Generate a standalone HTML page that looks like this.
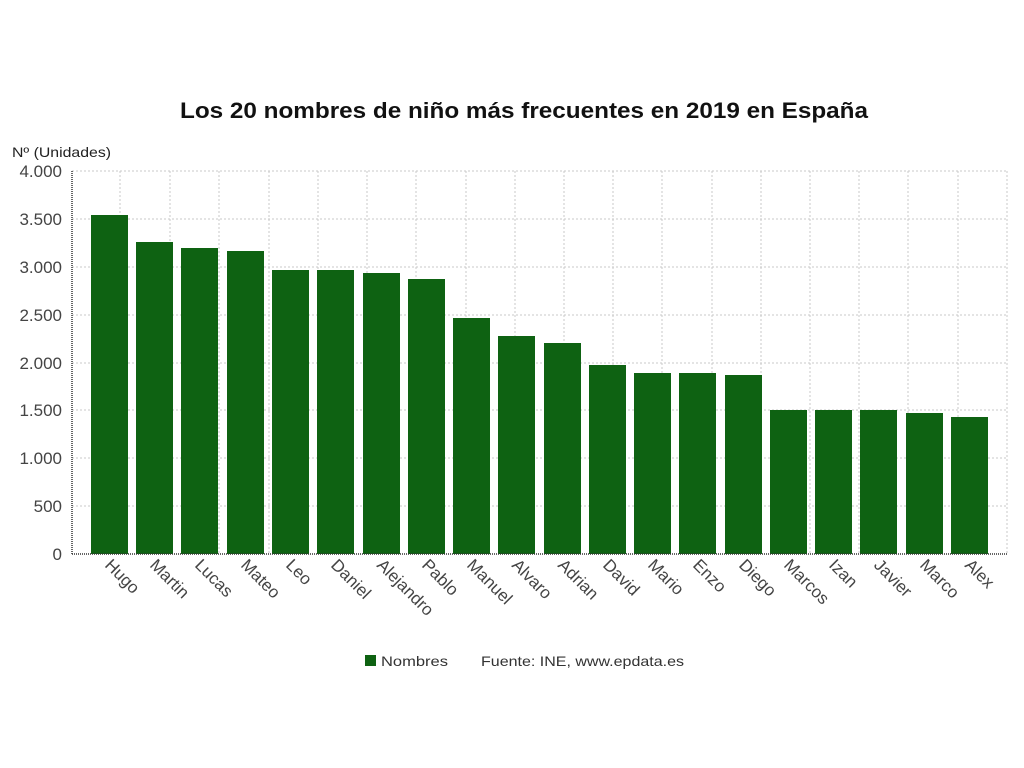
<!DOCTYPE html>
<html><head><meta charset="utf-8"><style>body{margin:0;background:#fff}svg{display:block}text{font-family:"Liberation Sans",sans-serif}</style></head>
<body>
<svg width="1024" height="768" xmlns="http://www.w3.org/2000/svg">
<text x="180" y="118" font-size="22" font-weight="bold" fill="#111" textLength="688" lengthAdjust="spacingAndGlyphs">Los 20 nombres de niño más frecuentes en 2019 en España</text>
<text x="12" y="157" font-size="14" fill="#222" textLength="99" lengthAdjust="spacingAndGlyphs">Nº (Unidades)</text>
<g stroke="#c8c8c8" stroke-dasharray="2,2" stroke-width="1">
<line x1="72" x2="1007" y1="171" y2="171"/><line x1="72" x2="1007" y1="219" y2="219"/><line x1="72" x2="1007" y1="267" y2="267"/><line x1="72" x2="1007" y1="315" y2="315"/><line x1="72" x2="1007" y1="363" y2="363"/><line x1="72" x2="1007" y1="410" y2="410"/><line x1="72" x2="1007" y1="458" y2="458"/><line x1="72" x2="1007" y1="506" y2="506"/>
<line x1="120" x2="120" y1="171" y2="554"/><line x1="170" x2="170" y1="171" y2="554"/><line x1="219" x2="219" y1="171" y2="554"/><line x1="269" x2="269" y1="171" y2="554"/><line x1="318" x2="318" y1="171" y2="554"/><line x1="367" x2="367" y1="171" y2="554"/><line x1="416" x2="416" y1="171" y2="554"/><line x1="466" x2="466" y1="171" y2="554"/><line x1="515" x2="515" y1="171" y2="554"/><line x1="564" x2="564" y1="171" y2="554"/><line x1="613" x2="613" y1="171" y2="554"/><line x1="662" x2="662" y1="171" y2="554"/><line x1="712" x2="712" y1="171" y2="554"/><line x1="761" x2="761" y1="171" y2="554"/><line x1="810" x2="810" y1="171" y2="554"/><line x1="859" x2="859" y1="171" y2="554"/><line x1="908" x2="908" y1="171" y2="554"/><line x1="958" x2="958" y1="171" y2="554"/><line x1="1007" x2="1007" y1="171" y2="554"/>
</g>
<g fill="#0e6212">
<rect x="91" y="215" width="37" height="339"/><rect x="136" y="242" width="37" height="312"/><rect x="181" y="248" width="37" height="306"/><rect x="227" y="251" width="37" height="303"/><rect x="272" y="270" width="37" height="284"/><rect x="317" y="270" width="37" height="284"/><rect x="363" y="273" width="37" height="281"/><rect x="408" y="279" width="37" height="275"/><rect x="453" y="318" width="37" height="236"/><rect x="498" y="336" width="37" height="218"/><rect x="544" y="343" width="37" height="211"/><rect x="589" y="365" width="37" height="189"/><rect x="634" y="373" width="37" height="181"/><rect x="679" y="373" width="37" height="181"/><rect x="725" y="375" width="37" height="179"/><rect x="770" y="410" width="37" height="144"/><rect x="815" y="410" width="37" height="144"/><rect x="860" y="410" width="37" height="144"/><rect x="906" y="413" width="37" height="141"/><rect x="951" y="417" width="37" height="137"/>
</g>
<line x1="72" x2="72" y1="171" y2="554" stroke="#333" stroke-width="1.5" stroke-dasharray="1,1"/>
<line x1="72" x2="1007" y1="554" y2="554" stroke="#333" stroke-width="1.5" stroke-dasharray="1,1"/>
<g font-size="17" fill="#444" text-anchor="end">
<text x="62" y="177">4.000</text><text x="62" y="225">3.500</text><text x="62" y="273">3.000</text><text x="62" y="321">2.500</text><text x="62" y="369">2.000</text><text x="62" y="416">1.500</text><text x="62" y="464">1.000</text><text x="62" y="512">500</text><text x="62" y="560">0</text>
</g>
<g font-size="17" fill="#444">
<text transform="translate(104,566) rotate(45)">Hugo</text>
<text transform="translate(149,566) rotate(45)">Martin</text>
<text transform="translate(194,566) rotate(45)">Lucas</text>
<text transform="translate(240,566) rotate(45)">Mateo</text>
<text transform="translate(285,566) rotate(45)">Leo</text>
<text transform="translate(330,566) rotate(45)">Daniel</text>
<text transform="translate(376,566) rotate(45)">Alejandro</text>
<text transform="translate(421,566) rotate(45)">Pablo</text>
<text transform="translate(466,566) rotate(45)">Manuel</text>
<text transform="translate(511,566) rotate(45)">Alvaro</text>
<text transform="translate(557,566) rotate(45)">Adrian</text>
<text transform="translate(602,566) rotate(45)">David</text>
<text transform="translate(647,566) rotate(45)">Mario</text>
<text transform="translate(692,566) rotate(45)">Enzo</text>
<text transform="translate(738,566) rotate(45)">Diego</text>
<text transform="translate(783,566) rotate(45)">Marcos</text>
<text transform="translate(828,566) rotate(45)">Izan</text>
<text transform="translate(873,566) rotate(45)">Javier</text>
<text transform="translate(919,566) rotate(45)">Marco</text>
<text transform="translate(964,566) rotate(45)">Alex</text>
</g>
<rect x="365" y="655" width="11" height="11" fill="#0e6212"/>
<text x="381" y="666" font-size="14" fill="#333" textLength="67" lengthAdjust="spacingAndGlyphs">Nombres</text>
<text x="481" y="666" font-size="14" fill="#333" textLength="203" lengthAdjust="spacingAndGlyphs">Fuente: INE, www.epdata.es</text>
</svg>
</body></html>
